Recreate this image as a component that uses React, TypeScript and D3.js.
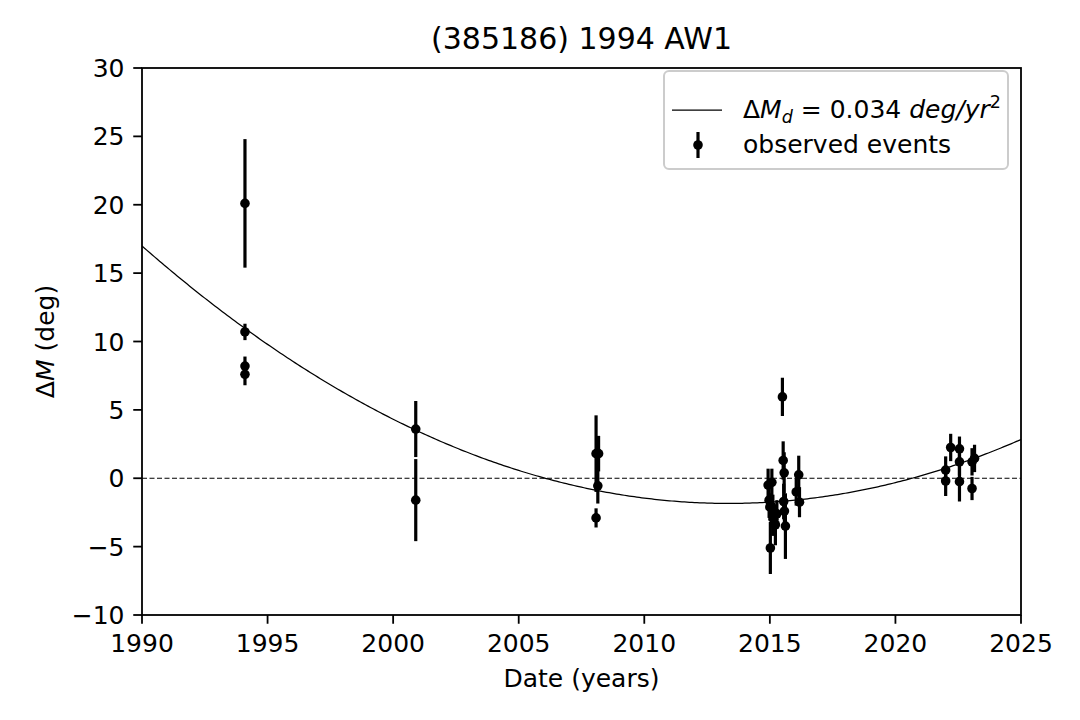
import React from "react";
import * as d3 from "d3";

const years: number[] = [
  1994.1, 1994.1, 1994.1, 1994.1,
  2000.9, 2000.9,
  2008.08, 2008.18, 2008.15, 2008.08,
  2014.93, 2014.97, 2015.0, 2015.02, 2015.08, 2015.12, 2015.15, 2015.22, 2015.28,
  2015.5, 2015.53, 2015.57, 2015.55, 2015.58, 2015.62,
  2016.05, 2016.15, 2016.18,
  2022.0, 2022.0, 2022.2, 2022.55, 2022.55, 2022.55, 2023.05, 2023.15, 2023.05,
];
const values: number[] = [
  20.1, 10.7, 8.2, 7.6,
  3.6, -1.6,
  1.8, 1.8, -0.55, -2.9,
  -0.5, -1.6, -2.1, -5.1, -0.3, -2.7, -3.0, -3.4, -2.6,
  5.95, 1.3, 0.4, -1.7, -2.4, -3.5,
  -1.0, 0.25, -1.75,
  0.6, -0.2, 2.25, 2.15, 1.2, -0.25, 1.2, 1.45, -0.75,
];
const errors: number[] = [
  4.7, 0.6, 0.7, 0.8,
  2.05, 3.0,
  2.8, 1.3, 1.3, 0.7,
  1.2, 1.3, 1.0, 1.9, 1.0, 1.5, 1.2, 1.5, 1.0,
  1.4, 1.4, 1.5, 1.3, 1.2, 2.4,
  1.0, 1.4, 1.1,
  1.0, 1.1, 1.0, 0.9, 1.0, 1.45, 1.0, 1.0, 0.85,
];

// fitted parabola parameters
const fitA = 0.0345;
const fitT0 = 2013.36;
const fitC = -1.84;

const xTicks: number[] = [1990, 1995, 2000, 2005, 2010, 2015, 2020, 2025];
const yTicks: number[] = [-10, -5, 0, 5, 10, 15, 20, 25, 30];

const W = 1080, H = 720;
const L = 142, R = 1021, T = 68, B = 615;
const FONT = "DejaVu Sans";

export default function App() {
  const x = d3.scaleLinear().domain([1990, 2025]).range([L, R]);
  const y = d3.scaleLinear().domain([-10, 30]).range([B, T]);

  const fitPts: [number, number][] = d3.range(1990, 2025.001, 0.1).map((t) => [t, fitA * (t - fitT0) ** 2 + fitC]);
  const line = d3.line<[number, number]>().x((d) => x(d[0])).y((d) => y(d[1]));

  const fs = 25;
  const tick = 8.75;
  const pad = 8.75;
  const ebw = 3.2;
  const mr = 4.8;

  return (
    <svg width={W} height={H} style={{ position: "absolute", left: 0, top: 0, background: "#fff" }} fontFamily={FONT}>
      <rect x={0} y={0} width={W} height={H} fill="#fff" />
      <defs>
        <clipPath id="plotclip">
          <rect x={L} y={T} width={R - L} height={B - T} />
        </clipPath>
      </defs>
      <g clipPath="url(#plotclip)">
        <line x1={L} x2={R} y1={y(0)} y2={y(0)} stroke="#000" strokeWidth={1.2} strokeDasharray="5,2.5" />
        <path d={line(fitPts) || ""} fill="none" stroke="#000" strokeWidth={1.25} />
        {years.map((t, i) => (
          <g key={i}>
            <line x1={x(t)} x2={x(t)} y1={y(values[i] - errors[i])} y2={y(values[i] + errors[i])} stroke="#000" strokeWidth={ebw} />
            <circle cx={x(t)} cy={y(values[i])} r={mr} fill="#000" />
          </g>
        ))}
      </g>
      <rect x={L} y={T} width={R - L} height={B - T} fill="none" stroke="#000" strokeWidth={1.8} />
      {xTicks.map((t) => (
        <g key={t}>
          <line x1={x(t)} x2={x(t)} y1={B} y2={B + tick} stroke="#000" strokeWidth={1.8} />
          <text x={x(t)} y={B + tick + pad} dy="0.76em" textAnchor="middle" fontSize={fs}>{t}</text>
        </g>
      ))}
      {yTicks.map((v) => (
        <g key={v}>
          <line x1={L - tick} x2={L} y1={y(v)} y2={y(v)} stroke="#000" strokeWidth={1.8} />
          <text x={L - tick - pad} y={y(v)} dy="0.36em" textAnchor="end" fontSize={fs}>{v < 0 ? "\u2212" + Math.abs(v) : v}</text>
        </g>
      ))}
      <text x={(L + R) / 2} y={49} textAnchor="middle" fontSize={30}>(385186) 1994 AW1</text>
      <text x={(L + R) / 2} y={687} textAnchor="middle" fontSize={fs}>Date (years)</text>
      <text transform={`translate(54,${(T + B) / 2}) rotate(-90)`} textAnchor="middle" fontSize={fs}>
        Δ<tspan fontStyle="italic">M</tspan> (deg)
      </text>
      <g>
        <rect x={664} y={71} width={344} height={98} rx={5} fill="#fff" fillOpacity={0.8} stroke="#cccccc" strokeWidth={2} />
        <line x1={672} x2={722} y1={110} y2={110} stroke="#000" strokeWidth={1.25} />
        <text x={743} y={118} fontSize={fs}>
          Δ<tspan fontStyle="italic">M</tspan>
          <tspan fontStyle="italic" fontSize={17.5} dy={5}>d</tspan>
          <tspan dy={-5}> = 0.034 </tspan>
          <tspan fontStyle="italic">deg/yr</tspan>
          <tspan fontSize={17.5} dy={-10}>2</tspan>
        </text>
        <line x1={698} x2={698} y1={132} y2={158} stroke="#000" strokeWidth={ebw} />
        <circle cx={698} cy={145} r={mr} fill="#000" />
        <text x={743} y={153} fontSize={fs}>observed events</text>
      </g>
    </svg>
  );
}
